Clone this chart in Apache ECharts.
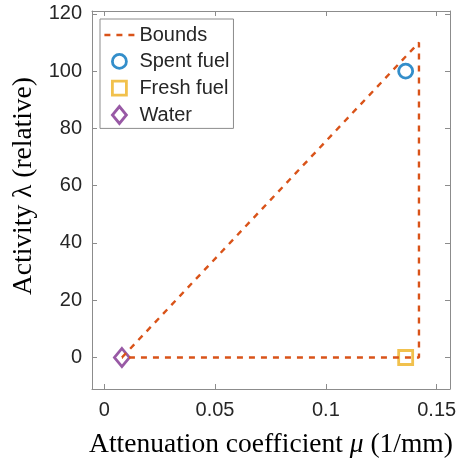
<!DOCTYPE html>
<html><head><meta charset="utf-8">
<script src="https://cdn.jsdelivr.net/npm/echarts@6/dist/echarts.min.js"></script>
<style>html,body{margin:0;padding:0;background:#fff}#c{width:460px;height:464px}</style>
</head><body><div id="c"></div>
<script>
const xTicks = [0, 0.05, 0.1, 0.15];
const yTicks = [0, 20, 40, 60, 80, 100, 120];
const boundsData = [[0.008, 0], [0.142, 110], [0.142, 0], [0.008, 0]];
const spentFuel = [[0.136, 100]];
const freshFuel = [[0.136, 0]];
const water = [[0.008, 0]];
const xRange = [-0.0055, 0.156];
const yRange = [-11, 121];

const axisCol = '#8c8c8c';
const txt = '#262626';
const cBounds = '#D95319', cSpent = '#0072BD', cFresh = '#EDB120', cWater = '#7E2F8E';

function ax(pos, isX, main) {
  const o = {
    type: 'value', position: pos,
    min: isX ? xRange[0] : yRange[0], max: isX ? xRange[1] : yRange[1],
    splitLine: {show: false},
    axisLine: {show: true, onZero: false, lineStyle: {color: axisCol, width: 1}},
    axisTick: {show: true, inside: true, length: 5, customValues: isX ? xTicks : yTicks, lineStyle: {color: axisCol}},
    axisLabel: {show: main, customValues: isX ? xTicks : yTicks, color: txt, fontSize: 20,
      fontFamily: 'Liberation Sans', margin: isX ? 11 : 10}
  };
  if (main) {
    o.name = isX ? 'Attenuation coefficient {i|μ} (1/mm)' : 'Activity λ (relative)';
    o.nameLocation = 'middle';
    o.nameGap = isX ? 42 : 53;
    o.nameTextStyle = {fontFamily: 'Liberation Serif', fontSize: 27.5, color: '#000',
      padding: isX ? 0 : [0, 0, 0, 28],
      rich: {i: {fontFamily: 'Liberation Serif', fontSize: 27.5, fontStyle: 'italic', color: '#000'}}};
  }
  return o;
}
const ext = 'M0,0M30,18';
const iconBounds = 'path://' + ext + 'M0,7.8h6v2.4h-6zM12,7.8h6v2.4h-6zM24,7.8h6v2.4h-6z';
const iconCircle = 'path://' + ext + 'M8,9a7,7 0 1,0 14,0a7,7 0 1,0 -14,0z';
const iconSquare = 'path://' + ext + 'M8,2h14v14h-14z';
const iconDiamond = 'path://' + ext + 'M15,0.5L22,9L15,17.5L8,9Z';
const hollow = (c) => ({color: 'rgba(0,0,0,0)', borderColor: c, borderWidth: 2.8});

const chart = echarts.init(document.getElementById('c'));
chart.setOption({
  animation: false,
  grid: {left: 92, right: 10, top: 11, bottom: 75},
  xAxis: [ax('bottom', true, true), ax('top', true, false)],
  yAxis: [ax('left', false, true), ax('right', false, false)],
  legend: {
    orient: 'vertical', left: 100, top: 19,
    padding: [6, 4, 3, 3], itemGap: 6, itemWidth: 30, itemHeight: 18,
    borderColor: axisCol, borderWidth: 1, backgroundColor: '#fff',
    textStyle: {fontSize: 20, fontFamily: 'Liberation Sans', color: txt},
    data: [
      {name: 'Bounds', icon: iconBounds, itemStyle: {color: cBounds, borderWidth: 0}},
      {name: 'Spent fuel', icon: iconCircle, itemStyle: hollow(cSpent)},
      {name: 'Fresh fuel', icon: iconSquare, itemStyle: hollow(cFresh)},
      {name: 'Water', icon: iconDiamond, itemStyle: hollow(cWater)}
    ]
  },
  series: [
    {name: 'Bounds', type: 'line', data: boundsData, symbol: 'none',
     lineStyle: {color: cBounds, width: 2.4, type: [6, 6]}, itemStyle: {color: cBounds}},
    {name: 'Spent fuel', type: 'scatter', data: spentFuel, symbol: 'circle', symbolSize: 14,
     itemStyle: hollow(cSpent)},
    {name: 'Fresh fuel', type: 'scatter', data: freshFuel, symbol: 'rect', symbolSize: 14,
     itemStyle: hollow(cFresh)},
    {name: 'Water', type: 'scatter', data: water, symbol: 'diamond', symbolSize: [15, 18],
     itemStyle: hollow(cWater)}
  ]
});
</script></body></html>
